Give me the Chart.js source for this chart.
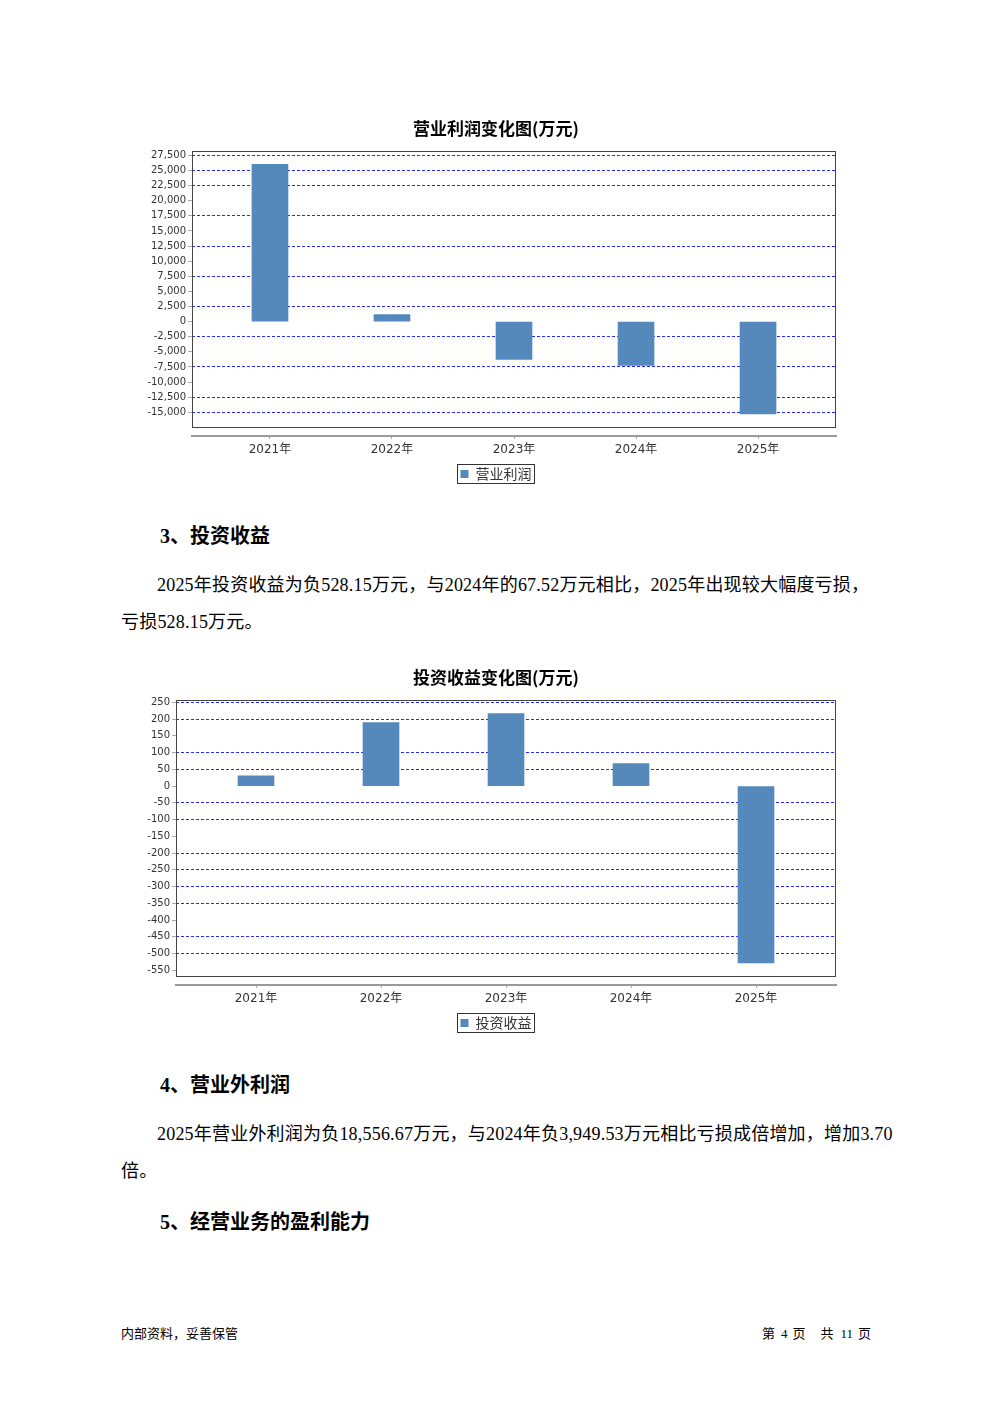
<!DOCTYPE html>
<html><head><meta charset="utf-8">
<script src="https://cdn.jsdelivr.net/npm/chart.js@4.4.0/dist/chart.umd.min.js"></script>
<style>
html,body{margin:0;padding:0;background:#fff;}
body{width:992px;height:1403px;position:relative;overflow:hidden;font-family:'Liberation Serif','Noto Sans CJK SC',serif;color:#000;}
.abs{position:absolute;white-space:nowrap;}
.h{font-size:20px;font-weight:bold;line-height:24px;}
.p{font-size:18px;line-height:24px;letter-spacing:0.2px;}
.foot{font-size:13px;line-height:16px;font-family:'Noto Sans CJK SC',sans-serif;}
.num{font-family:'Liberation Serif',serif;}
.cw{position:absolute;}
</style></head><body>

<div class="cw" style="left:140px;top:110px;width:712px;height:390px;"><canvas id="c1" width="712" height="390"></canvas></div>
<div class="abs h" style="left:160px;top:524px;">3、投资收益</div>
<div class="abs p" style="left:157px;top:573px;">2025年投资收益为负528.15万元，与2024年的67.52万元相比，2025年出现较大幅度亏损，</div>
<div class="abs p" style="left:121px;top:610px;">亏损528.15万元。</div>

<div class="cw" style="left:120px;top:659px;width:752px;height:390px;"><canvas id="c2" width="752" height="390"></canvas></div>
<div class="abs h" style="left:160px;top:1073px;">4、营业外利润</div>
<div class="abs p" style="left:157px;top:1122px;">2025年营业外利润为负18,556.67万元，与2024年负3,949.53万元相比亏损成倍增加，增加3.70</div>
<div class="abs p" style="left:121px;top:1159px;">倍。</div>
<div class="abs h" style="left:160px;top:1210px;">5、经营业务的盈利能力</div>

<div class="abs foot" style="left:121px;top:1325px;">内部资料，妥善保管</div>
<div class="abs foot" style="left:762px;top:1325px;">第<span class="num" style="margin:0 5px 0 6px;">4</span>页<span style="margin-left:15px;">共</span><span class="num" style="margin:0 5px 0 7px;">11</span>页</div>

<script>
// ---- data ----
const years = ['2021年', '2022年', '2023年', '2024年', '2025年'];

const opProfitTitle = '营业利润变化图(万元)';
const opProfitLabel = '营业利润';
const opProfit = [26000, 1140, -6270, -7270, -15280];
const opProfitTicks = [27500, 25000, 22500, 20000, 17500, 15000, 12500, 10000, 7500, 5000, 2500, 0,
  -2500, -5000, -7500, -10000, -12500, -15000];
const opProfitGrid = [27500, 25000, 22500, 17500, 12500, 7500, 2500, -2500, -7500, -12500, -15000];

const investTitle = '投资收益变化图(万元)';
const investLabel = '投资收益';
const invest = [31, 190, 217, 67.52, -528.15];
const investTicks = [250, 200, 150, 100, 50, 0, -50, -100, -150, -200, -250, -300, -350, -400, -450, -500, -550];
const investGrid = [250, 200, 100, 50, -50, -100, -200, -250, -300, -350, -450, -500];

// ---- plugins ----
const framePlugin = {
  id: 'frame',
  afterDatasetsDraw(chart, args, opts) {
    const { ctx, chartArea: a } = chart;
    ctx.save();
    ctx.strokeStyle = '#444';
    ctx.lineWidth = 1;
    const l = Math.round(a.left) + 0.5, t = Math.round(a.top) + 0.5;
    const r = Math.round(a.right) - 0.5, b = Math.round(a.bottom - opts.gap) + 0.5;
    ctx.strokeRect(l, t, r - l, b - t);
    ctx.restore();
  }
};
const legendFramePlugin = {
  id: 'legendFrame',
  afterDraw(chart) {
    const lg = chart.legend;
    if (!lg || !lg.legendHitBoxes || !lg.legendHitBoxes.length) return;
    const hb = lg.legendHitBoxes[0];
    const { ctx } = chart;
    ctx.save();
    ctx.strokeStyle = '#333';
    ctx.lineWidth = 1;
    ctx.strokeRect(Math.round(hb.left - 4) + 0.5, Math.round(hb.top - 3) + 0.5,
      Math.round(hb.width + 6), Math.round(hb.height + 5));
    ctx.restore();
  }
};

function makeChart(id, cats, values, yTicks, gridTicks, label, title, yMin, yMax, xMargin, yWidth, rWidth) {
  return new Chart(document.getElementById(id), {
    type: 'bar',
    data: {
      datasets: [{
        label: label,
        data: cats.map((c, i) => ({ x: i, y: values[i] })),
        backgroundColor: '#5589bb',
        borderWidth: 0,
        barThickness: 36
      }]
    },
    options: {
      responsive: false,
      animation: false,
      devicePixelRatio: 1,
      layout: { padding: { left: 0, right: 0, top: 0, bottom: 9 } },
      plugins: {
        tooltip: { enabled: false },
        frame: { gap: 9 },
        title: {
          display: true, text: title, color: '#000',
          font: { family: "'Noto Sans CJK SC', sans-serif", size: 17, weight: 'bold' },
          padding: { top: 8, bottom: 13 }
        },
        legend: {
          position: 'bottom',
          labels: {
            boxWidth: 8, boxHeight: 8, padding: 7, color: '#333',
            font: { family: "'Noto Sans CJK SC', sans-serif", size: 14 }
          }
        }
      },
      scales: {
        x: {
          type: 'linear',
          offset: false,
          min: -xMargin, max: cats.length - 1 + xMargin,
          afterBuildTicks: s => { s.ticks = cats.map((c, i) => ({ value: i })); },
          afterFit: s => { s.height = 24; },
          ticks: {
            callback: v => cats[v],
            autoSkip: false, maxRotation: 0, padding: 4, color: '#333',
            font: { family: "'DejaVu Sans', 'Noto Sans CJK SC', sans-serif", size: 12 }
          },
          grid: { offset: false, drawOnChartArea: false, drawTicks: true, tickLength: 3, tickColor: '#aaa' },
          border: { display: true, color: '#999', width: 2 }
        },
        y: {
          min: yMin, max: yMax,
          afterBuildTicks: s => { s.ticks = yTicks.map(v => ({ value: v })); },
          afterFit: s => { s.width = yWidth; },
          ticks: {
            callback: v => v.toLocaleString('en-US'),
            autoSkip: false, padding: 2, color: '#333',
            font: { family: "'DejaVu Sans', sans-serif", size: 10 }
          },
          grid: {
            color: ctx => (ctx.tick && gridTicks.includes(ctx.tick.value)) ? '#2626ff' : 'rgba(0,0,0,0)',
            tickColor: '#aaa', tickLength: 4, lineWidth: 1, tickBorderDash: [1, 0]
          },
          border: { display: false, dash: [3, 2] }
        },
        yPad: {
          type: 'linear', position: 'right', display: true,
          afterFit: s => { s.width = rWidth; },
          ticks: { display: false },
          grid: { display: false, drawTicks: false },
          border: { display: false }
        }
      }
    },
    plugins: [framePlugin, legendFramePlugin]
  });
}

makeChart('c1', years, opProfit, opProfitTicks, opProfitGrid, opProfitLabel, opProfitTitle,
  -18930, 28160, 0.639, 52, 16);
makeChart('c2', years, invest, investTicks, investGrid, investLabel, investTitle,
  -594, 256, 0.64, 56, 36);
</script>
</body></html>
